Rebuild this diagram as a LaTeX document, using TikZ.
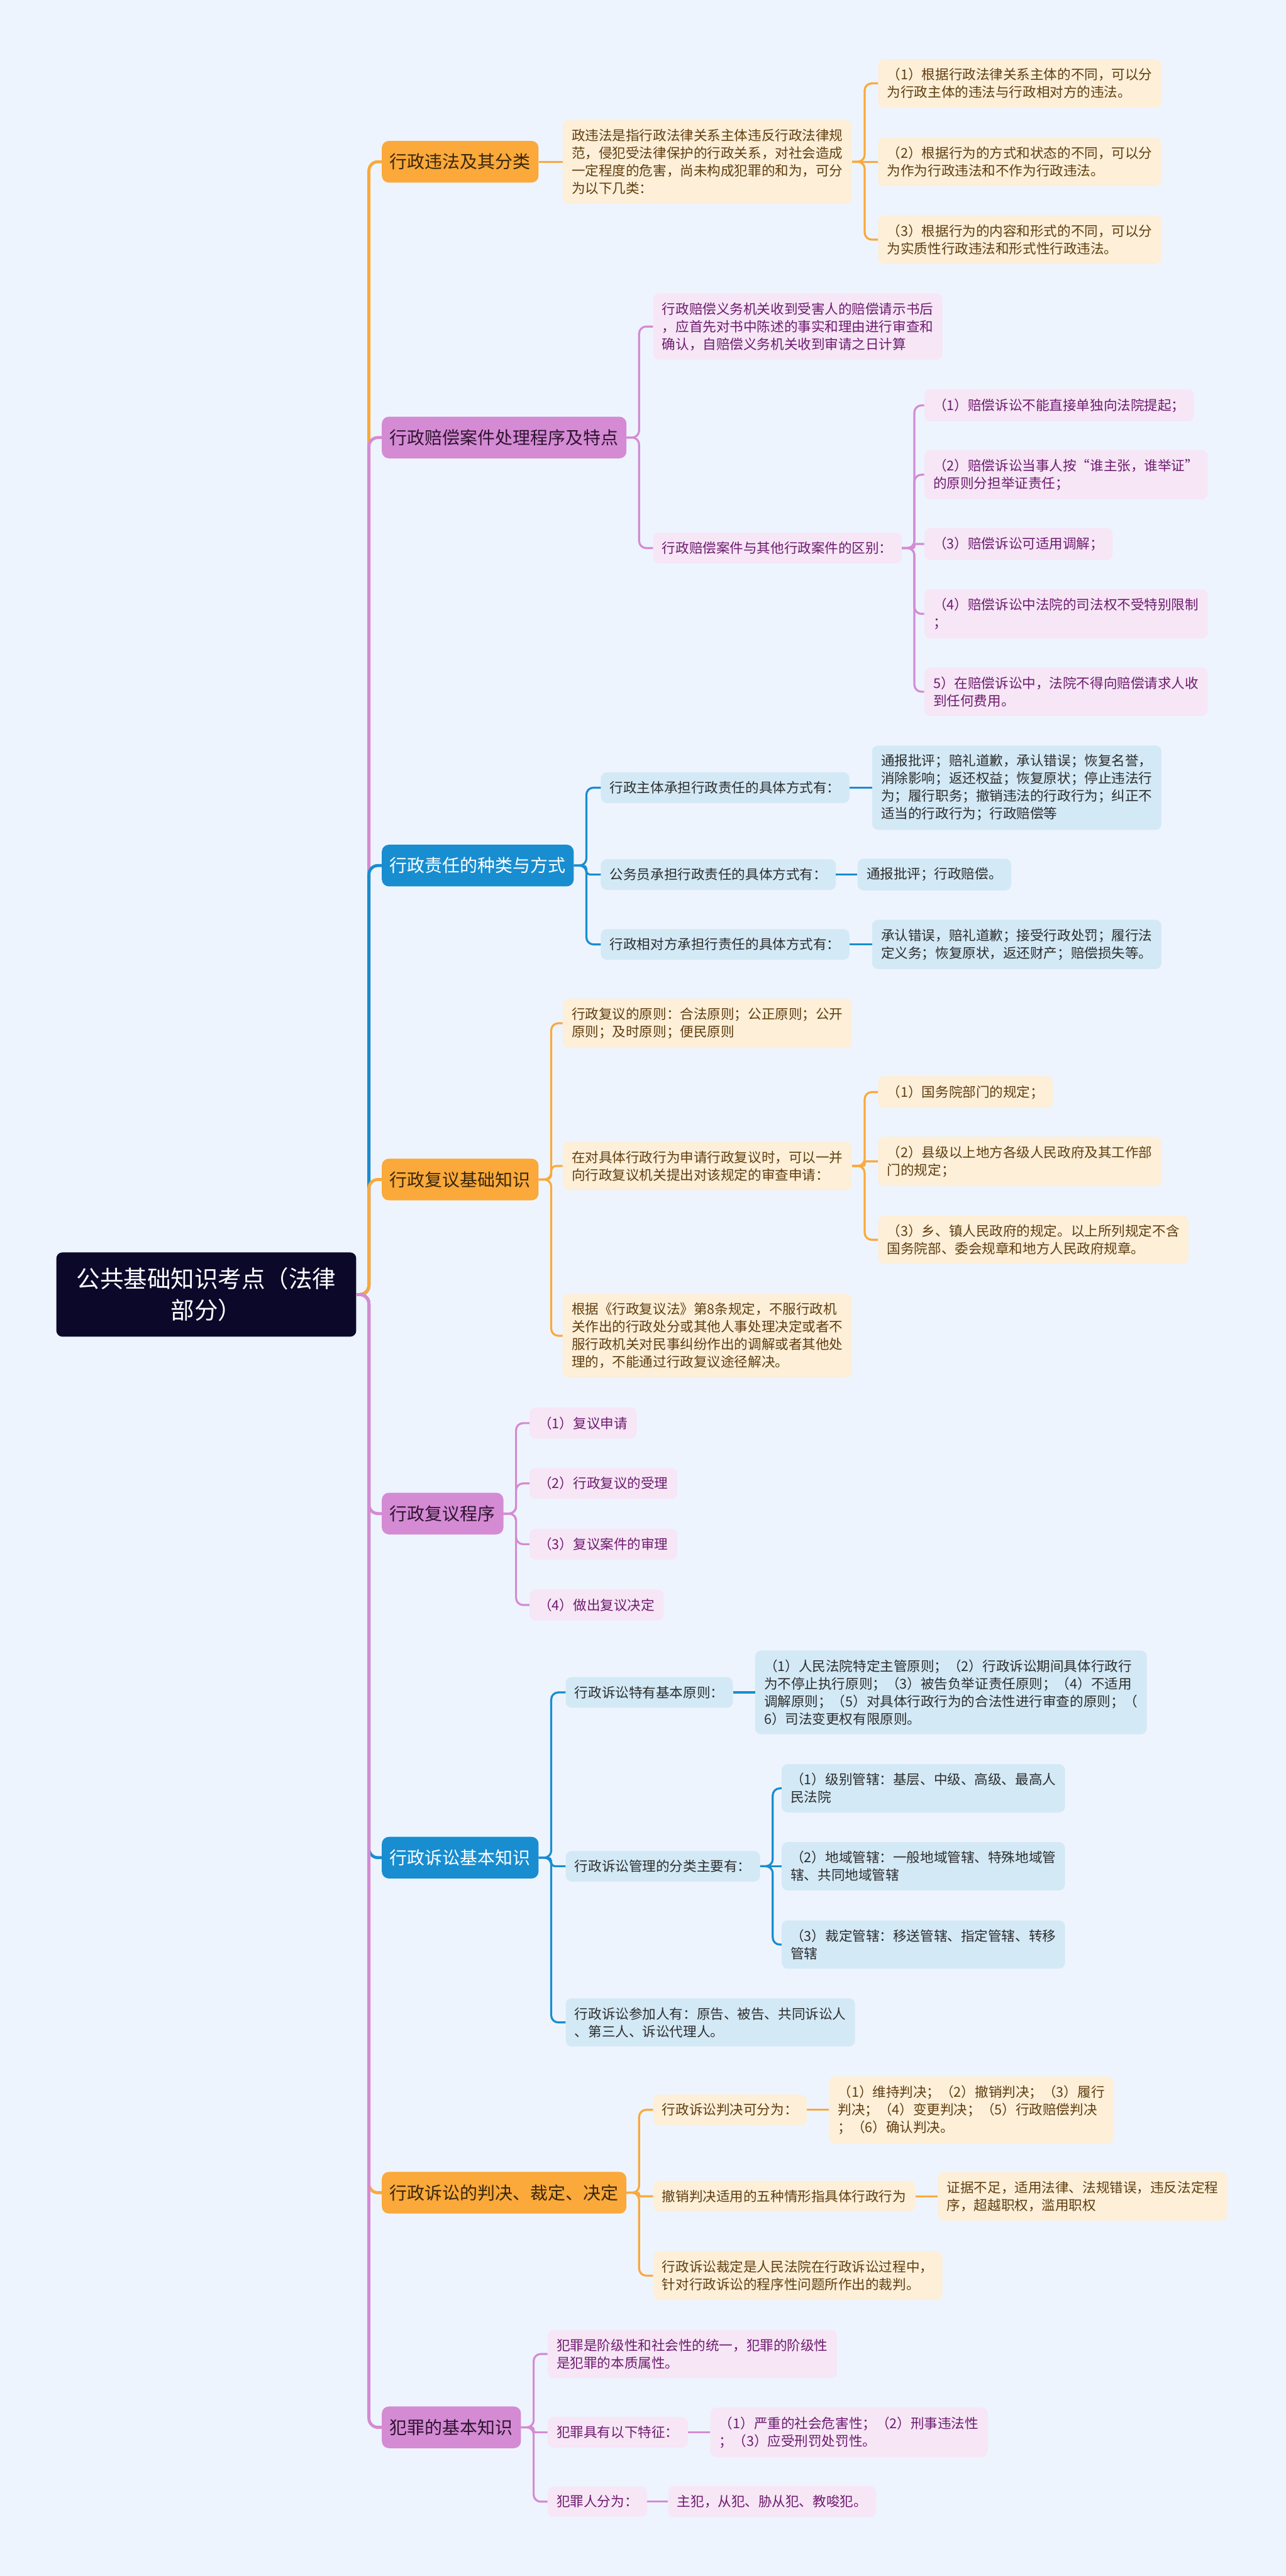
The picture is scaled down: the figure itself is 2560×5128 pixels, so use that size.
\documentclass[tikz,border=0pt]{standalone}
\usepackage{fontspec}
\setmainfont{Noto Sans CJK SC}
\usetikzlibrary{positioning}
\definecolor{bgblue}{RGB}{238,244,254}
\definecolor{rootnavy}{RGB}{11,8,42}
\definecolor{morange}{RGB}{250,169,58}
\definecolor{lorange}{RGB}{253,239,216}
\definecolor{torange}{RGB}{96,62,16}
\definecolor{dorange}{RGB}{58,38,12}
\definecolor{mpurple}{RGB}{212,139,212}
\definecolor{lpurple}{RGB}{246,230,246}
\definecolor{tpurple}{RGB}{110,28,110}
\definecolor{dpurple}{RGB}{48,20,48}
\definecolor{mblue}{RGB}{24,141,208}
\definecolor{lblue}{RGB}{211,233,246}
\definecolor{tblue}{RGB}{45,45,45}
\tikzset{
  rootbox/.style={rounded corners=12pt, fill=rootnavy, text=white, anchor=west,
    font=\fontsize{47}{63}\selectfont, align=center, inner xsep=40pt, inner ysep=30pt},
  mainbox/.style={rounded corners=14pt, anchor=west, font=\fontsize{35}{42}\selectfont,
    inner xsep=16pt, inner ysep=4pt, minimum height=83pt},
  orangemain/.style={mainbox, fill=morange, text=dorange},
  purplemain/.style={mainbox, fill=mpurple, text=dpurple},
  bluemain/.style={mainbox, fill=mblue, text=white},
  leafbox/.style={rounded corners=12pt, anchor=west, font=\fontsize{27}{35}\selectfont,
    align=left, inner xsep=18pt, inner ysep=18pt},
  orangeleaf/.style={leafbox, fill=lorange, text=torange},
  purpleleaf/.style={leafbox, fill=lpurple, text=tpurple},
  blueleaf/.style={leafbox, fill=lblue, text=tblue},
  mainline/.style={line width=6pt, rounded corners=18pt},
  subline/.style={line width=4pt, rounded corners=14pt}
}
\begin{document}
\begin{tikzpicture}[x=1pt,y=-1pt]

\fill[bgblue] (0,0) rectangle (2560,5128);
\useasboundingbox (0,0) rectangle (2560,5128);

\node [rootbox] (root) at (112,2577) {公共基础知识考点（法律\\部分）};

\node [orangemain] (b1) at (760,322) {行政违法及其分类};
\node [orangeleaf] (b1a) at (1120,322) {政违法是指行政法律关系主体违反行政法律规\\范，侵犯受法律保护的行政关系，对社会造成\\一定程度的危害，尚未构成犯罪的和为，可分\\为以下几类：};
\node [orangeleaf] (b1a1) at (1748,166) {（1）根据行政法律关系主体的不同，可以分\\为行政主体的违法与行政相对方的违法。};
\node [orangeleaf] (b1a2) at (1748,322) {（2）根据行为的方式和状态的不同，可以分\\为作为行政违法和不作为行政违法。};
\node [orangeleaf] (b1a3) at (1748,477) {（3）根据行为的内容和形式的不同，可以分\\为实质性行政违法和形式性行政违法。};

\node [purplemain] (b2) at (760,871) {行政赔偿案件处理程序及特点};
\node [purpleleaf] (b2a) at (1300,650) {行政赔偿义务机关收到受害人的赔偿请示书后\\，应首先对书中陈述的事实和理由进行审查和\\确认，自赔偿义务机关收到审请之日计算};
\node [purpleleaf] (b2b) at (1300,1091) {行政赔偿案件与其他行政案件的区别：};
\node [purpleleaf] (b2b1) at (1840,807) {（1）赔偿诉讼不能直接单独向法院提起；};
\node [purpleleaf] (b2b2) at (1840,945) {（2）赔偿诉讼当事人按“谁主张，谁举证”\\的原则分担举证责任；};
\node [purpleleaf] (b2b3) at (1840,1083) {（3）赔偿诉讼可适用调解；};
\node [purpleleaf] (b2b4) at (1840,1222) {（4）赔偿诉讼中法院的司法权不受特别限制\\；};
\node [purpleleaf] (b2b5) at (1840,1377) {5）在赔偿诉讼中，法院不得向赔偿请求人收\\到任何费用。};

\node [bluemain] (b3) at (760,1723) {行政责任的种类与方式};
\node [blueleaf] (b3a) at (1196,1568) {行政主体承担行政责任的具体方式有：};
\node [blueleaf] (b3a1) at (1736,1568) {通报批评；赔礼道歉，承认错误；恢复名誉，\\消除影响；返还权益；恢复原状；停止违法行\\为；履行职务；撤销违法的行政行为；纠正不\\适当的行政行为；行政赔偿等};
\node [blueleaf] (b3b) at (1196,1741) {公务员承担行政责任的具体方式有：};
\node [blueleaf] (b3b1) at (1707,1741) {通报批评；行政赔偿。};
\node [blueleaf] (b3c) at (1196,1880) {行政相对方承担行责任的具体方式有：};
\node [blueleaf] (b3c1) at (1736,1880) {承认错误，赔礼道歉；接受行政处罚；履行法\\定义务；恢复原状，返还财产；赔偿损失等。};

\node [orangemain] (b4) at (760,2348) {行政复议基础知识};
\node [orangeleaf] (b4a) at (1120,2037) {行政复议的原则：合法原则；公正原则；公开\\原则；及时原则；便民原则};
\node [orangeleaf] (b4b) at (1120,2321) {在对具体行政行为申请行政复议时，可以一并\\向行政复议机关提出对该规定的审查申请：};
\node [orangeleaf] (b4b1) at (1748,2174) {（1）国务院部门的规定；};
\node [orangeleaf] (b4b2) at (1748,2312) {（2）县级以上地方各级人民政府及其工作部\\门的规定；};
\node [orangeleaf] (b4b3) at (1748,2468) {（3）乡、镇人民政府的规定。以上所列规定不含\\国务院部、委会规章和地方人民政府规章。};
\node [orangeleaf] (b4c) at (1120,2659) {根据《行政复议法》第8条规定，不服行政机\\关作出的行政处分或其他人事处理决定或者不\\服行政机关对民事纠纷作出的调解或者其他处\\理的，不能通过行政复议途径解决。};

\node [purplemain] (b5) at (760,3013) {行政复议程序};
\node [purpleleaf] (b5a) at (1054,2833) {（1）复议申请};
\node [purpleleaf] (b5b) at (1054,2953) {（2）行政复议的受理};
\node [purpleleaf] (b5c) at (1054,3074) {（3）复议案件的审理};
\node [purpleleaf] (b5d) at (1054,3195) {（4）做出复议决定};

\node [bluemain] (b6) at (760,3698) {行政诉讼基本知识};
\node [blueleaf] (b6a) at (1126,3369) {行政诉讼特有基本原则：};
\node [blueleaf] (b6a1) at (1503,3369) {（1）人民法院特定主管原则；（2）行政诉讼期间具体行政行\\为不停止执行原则；（3）被告负举证责任原则；（4）不适用\\调解原则；（5）对具体行政行为的合法性进行审查的原则；（\\6）司法变更权有限原则。};
\node [blueleaf] (b6b) at (1126,3715) {行政诉讼管理的分类主要有：};
\node [blueleaf] (b6b1) at (1556,3560) {（1）级别管辖：基层、中级、高级、最高人\\民法院};
\node [blueleaf] (b6b2) at (1556,3715) {（2）地域管辖：一般地域管辖、特殊地域管\\辖、共同地域管辖};
\node [blueleaf] (b6b3) at (1556,3871) {（3）裁定管辖：移送管辖、指定管辖、转移\\管辖};
\node [blueleaf] (b6c) at (1126,4026) {行政诉讼参加人有：原告、被告、共同诉讼人\\、第三人、诉讼代理人。};

\node [orangemain] (b7) at (760,4365) {行政诉讼的判决、裁定、决定};
\node [orangeleaf] (b7a) at (1300,4200) {行政诉讼判决可分为：};
\node [orangeleaf] (b7a1) at (1650,4200) {（1）维持判决；（2）撤销判决；（3）履行\\判决；（4）变更判决；（5）行政赔偿判决\\；（6）确认判决。};
\node [orangeleaf] (b7b) at (1300,4372) {撤销判决适用的五种情形指具体行政行为};
\node [orangeleaf] (b7b1) at (1867,4372) {证据不足，适用法律、法规错误，违反法定程\\序，超越职权，滥用职权};
\node [orangeleaf] (b7c) at (1300,4530) {行政诉讼裁定是人民法院在行政诉讼过程中，\\针对行政诉讼的程序性问题所作出的裁判。};

\node [purplemain] (b8) at (760,4832) {犯罪的基本知识};
\node [purpleleaf] (b8a) at (1090,4686) {犯罪是阶级性和社会性的统一，犯罪的阶级性\\是犯罪的本质属性。};
\node [purpleleaf] (b8b) at (1090,4842) {犯罪具有以下特征：};
\node [purpleleaf] (b8b1) at (1414,4842) {（1）严重的社会危害性；（2）刑事违法性\\；（3）应受刑罚处罚性。};
\node [purpleleaf] (b8c) at (1090,4980) {犯罪人分为：};
\node [purpleleaf] (b8c1) at (1330,4980) {主犯，从犯、胁从犯、教唆犯。};

\draw[mainline, morange] (root.east) -- ++(25,0) |- (b1.west);
\draw[mainline, mpurple] (root.east) -- ++(25,0) |- (b2.west);
\draw[mainline, mblue] (root.east) -- ++(25,0) |- (b3.west);
\draw[mainline, morange] (root.east) -- ++(25,0) |- (b4.west);
\draw[mainline, mpurple] (root.east) -- ++(25,0) |- (b5.west);
\draw[mainline, mblue] (root.east) -- ++(25,0) |- (b6.west);
\draw[mainline, morange] (root.east) -- ++(25,0) |- (b7.west);
\draw[mainline, mpurple] (root.east) -- ++(25,0) |- (b8.west);

\draw[subline, morange] (b1.east) -- (b1a.west);
\draw[subline, morange] (b1a.east) -- ++(25,0) |- (b1a1.west);
\draw[subline, morange] (b1a.east) -- (b1a2.west);
\draw[subline, morange] (b1a.east) -- ++(25,0) |- (b1a3.west);

\draw[subline, mpurple] (b2.east) -- ++(25,0) |- (b2a.west);
\draw[subline, mpurple] (b2.east) -- ++(25,0) |- (b2b.west);
\draw[subline, mpurple] (b2b.east) -- ++(25,0) |- (b2b1.west);
\draw[subline, mpurple] (b2b.east) -- ++(25,0) |- (b2b2.west);
\draw[subline, mpurple, rounded corners=3pt] (b2b.east) -- ++(25,0) |- (b2b3.west);
\draw[subline, mpurple] (b2b.east) -- ++(25,0) |- (b2b4.west);
\draw[subline, mpurple] (b2b.east) -- ++(25,0) |- (b2b5.west);

\draw[subline, mblue] (b3.east) -- ++(25,0) |- (b3a.west);
\draw[subline, mblue, rounded corners=7pt] (b3.east) -- ++(25,0) |- (b3b.west);
\draw[subline, mblue] (b3.east) -- ++(25,0) |- (b3c.west);
\draw[subline, mblue] (b3a.east) -- (b3a1.west);
\draw[subline, mblue] (b3b.east) -- (b3b1.west);
\draw[subline, mblue] (b3c.east) -- (b3c1.west);

\draw[subline, morange] (b4.east) -- ++(25,0) |- (b4a.west);
\draw[subline, morange, rounded corners=10pt] (b4.east) -- ++(25,0) |- (b4b.west);
\draw[subline, morange] (b4.east) -- ++(25,0) |- (b4c.west);
\draw[subline, morange] (b4b.east) -- ++(25,0) |- (b4b1.west);
\draw[subline, morange, rounded corners=3pt] (b4b.east) -- ++(25,0) |- (b4b2.west);
\draw[subline, morange] (b4b.east) -- ++(25,0) |- (b4b3.west);

\draw[subline, mpurple] (b5.east) -- ++(25,0) |- (b5a.west);
\draw[subline, mpurple] (b5.east) -- ++(25,0) |- (b5b.west);
\draw[subline, mpurple] (b5.east) -- ++(25,0) |- (b5c.west);
\draw[subline, mpurple] (b5.east) -- ++(25,0) |- (b5d.west);

\draw[subline, mblue] (b6.east) -- ++(25,0) |- (b6a.west);
\draw[subline, mblue, rounded corners=7pt] (b6.east) -- ++(25,0) |- (b6b.west);
\draw[subline, mblue] (b6.east) -- ++(25,0) |- (b6c.west);
\draw[subline, mblue] (b6a.east) -- (b6a1.west);
\draw[subline, mblue] (b6b.east) -- ++(25,0) |- (b6b1.west);
\draw[subline, mblue] (b6b.east) -- (b6b2.west);
\draw[subline, mblue] (b6b.east) -- ++(25,0) |- (b6b3.west);

\draw[subline, morange] (b7.east) -- ++(25,0) |- (b7a.west);
\draw[subline, morange, rounded corners=3pt] (b7.east) -- ++(25,0) |- (b7b.west);
\draw[subline, morange] (b7.east) -- ++(25,0) |- (b7c.west);
\draw[subline, morange] (b7a.east) -- (b7a1.west);
\draw[subline, morange] (b7b.east) -- (b7b1.west);

\draw[subline, mpurple] (b8.east) -- ++(25,0) |- (b8a.west);
\draw[subline, mpurple, rounded corners=4pt] (b8.east) -- ++(25,0) |- (b8b.west);
\draw[subline, mpurple] (b8.east) -- ++(25,0) |- (b8c.west);
\draw[subline, mpurple] (b8b.east) -- (b8b1.west);
\draw[subline, mpurple] (b8c.east) -- (b8c1.west);

\end{tikzpicture}
\end{document}
